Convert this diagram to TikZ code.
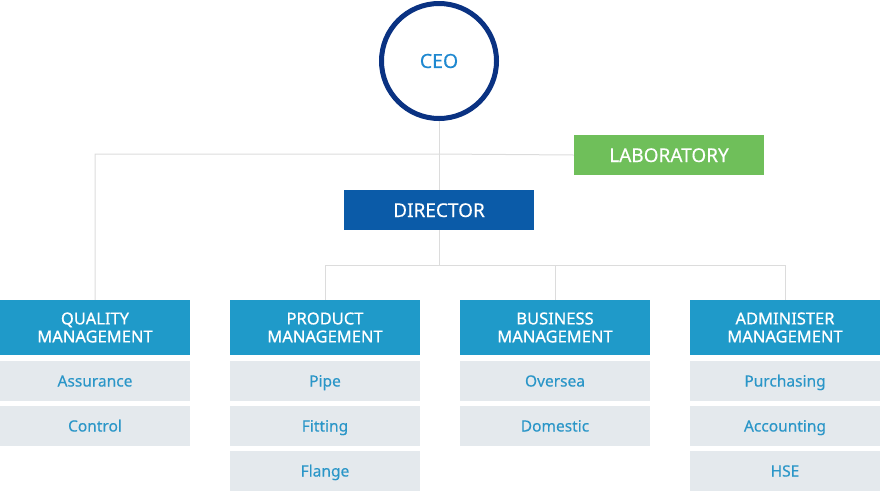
\documentclass[tikz,border=0pt]{standalone}
\usepackage{fontspec}
\setmainfont{Noto Sans}
\newfontfamily\semib[FakeBold=0.7]{Noto Sans}
\newfontfamily\lightb[FakeBold=0.3]{Noto Sans}
\definecolor{navy}{HTML}{0A3282}
\definecolor{ceotext}{HTML}{1E88D0}
\definecolor{linegray}{HTML}{DCDCDC}
\definecolor{labgreen}{HTML}{6FBF5A}
\definecolor{dirblue}{HTML}{0B5BA8}
\definecolor{deptblue}{HTML}{1F9AC9}
\definecolor{subgray}{HTML}{E4E9ED}
\definecolor{subtext}{HTML}{2A96C8}
\tikzset{
  px/.style={x=1pt,y=-1pt},
  conn/.style={draw=linegray,line width=1pt},
  topbox/.style={minimum width=190pt,minimum height=40pt,inner sep=0pt,text=white,text height=16pt,text depth=2pt,font=\lightb\fontsize{19}{22}\selectfont},
  dept/.style={fill=deptblue,minimum width=190pt,minimum height=55pt,inner sep=0pt,text=white,align=center,font=\semib\fontsize{16.5}{18}\selectfont},
  sub/.style={fill=subgray,minimum width=190pt,minimum height=40pt,inner sep=0pt,text=subtext,text height=14pt,text depth=3pt,font=\lightb\fontsize{15.5}{18}\selectfont}
}
\begin{document}
\begin{tikzpicture}[px]
\useasboundingbox (0,0) rectangle (880,491);
% nodes
\node[circle,draw=navy,line width=5pt,fill=white,minimum size=115pt,inner sep=0pt,text=ceotext,font=\lightb\fontsize{19.5}{22}\selectfont] (ceo) at (439,61) {CEO};
\node[topbox,fill=labgreen] (lab) at (669,155) {LABORATORY};
\node[topbox,fill=dirblue] (dir) at (439,210) {DIRECTOR};
\node[dept] (q) at (95,327.5) {QUALITY\\MANAGEMENT};
\node[dept] (p) at (325,327.5) {PRODUCT\\MANAGEMENT};
\node[dept] (b) at (555,327.5) {BUSINESS\\MANAGEMENT};
\node[dept] (a) at (785,327.5) {ADMINISTER\\MANAGEMENT};
\node[sub] (q1) at (95,381) {Assurance};
\node[sub] (q2) at (95,426) {Control};
\node[sub] (p1) at (325,381) {Pipe};
\node[sub] (p2) at (325,426) {Fitting};
\node[sub] (p3) at (325,471) {Flange};
\node[sub] (b1) at (555,381) {Oversea};
\node[sub] (b2) at (555,426) {Domestic};
\node[sub] (a1) at (785,381) {Purchasing};
\node[sub] (a2) at (785,426) {Accounting};
\node[sub] (a3) at (785,471) {HSE};
% connectors
\coordinate (lj) at (439,154);
\coordinate (dj) at (439,265);
\draw[conn] (ceo.south) -- (dir.north);
\draw[conn] (lab.west) -- (lj) -| (q.north);
\draw[conn] (dir.south) -- (dj);
\draw[conn] (dj) -| (p.north);
\draw[conn] (dj) -| (b.north);
\draw[conn] (dj) -| (a.north);
\end{tikzpicture}
\end{document}
